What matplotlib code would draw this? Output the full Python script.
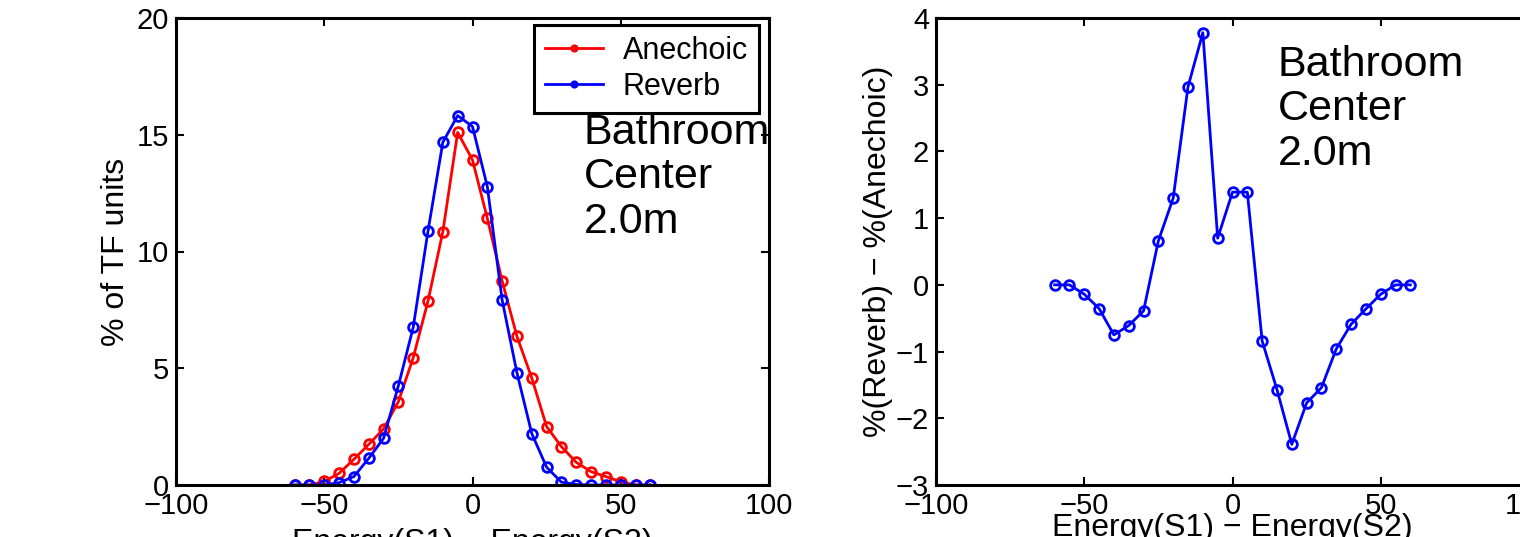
import numpy as np
import matplotlib
matplotlib.use("Agg")
import matplotlib.pyplot as plt

plt.rcParams['font.family'] = ['Liberation Sans', 'DejaVu Sans']

# energy difference bins
energia = [-60, -55, -50, -45, -40, -35, -30, -25, -20, -15, -10, -5, 0,
           5, 10, 15, 20, 25, 30, 35, 40, 45, 50, 55, 60]

anechoic = [0, 0, 0.15, 0.5, 1.1, 1.74, 2.4, 3.57, 5.45, 7.88, 10.85, 15.1,
            13.92, 11.42, 8.74, 6.36, 4.58, 2.5, 1.64, 0.97, 0.57, 0.36,
            0.14, 0, 0]
reverb = [0, 0, 0, 0.1, 0.36, 1.14, 2.0, 4.25, 6.75, 10.88, 14.68, 15.82,
          15.35, 12.78, 7.92, 4.8, 2.2, 0.76, 0.12, 0.02, 0, 0, 0, 0, 0]
roznica = [0, 0, -0.14, -0.355, -0.75, -0.61, -0.39, 0.66, 1.30, 2.97, 3.78,
           0.70, 1.39, 1.39, -0.84, -1.57, -2.39, -1.77, -1.54, -0.96, -0.59,
           -0.36, -0.14, 0, 0]

xticks = [-100, -50, 0, 50, 100]
yticks_l = [0, 5, 10, 15, 20]
yticks_r = [-3, -2, -1, 0, 1, 2, 3, 4]
opis = "Bathroom\nCenter\n2.0m"

fig = plt.figure(figsize=(15.2, 5.37), dpi=100)
ax1 = fig.add_axes([176 / 1520, 52 / 537, 593 / 1520, 467 / 537])
ax2 = fig.add_axes([936 / 1520, 52 / 537, 593 / 1520, 467 / 537])

styl = dict(marker='o', markersize=7, markerfacecolor='none',
            markeredgewidth=2, linewidth=2)


def wyglad(ax, yt):
    ax.set_xlim(-100, 100)
    ax.set_xticks(xticks)
    ax.set_yticks(yt)
    ax.set_ylim(yt[0], yt[-1])
    ax.tick_params(direction='in', length=6, width=1.5, labelsize=21,
                   top=True, right=True, pad=5)
    for s in ax.spines.values():
        s.set_linewidth(2.2)


ax1.plot(energia, anechoic, color='#ff0000', label='Anechoic', **styl)
ax1.plot(energia, reverb, color='#0000ff', label='Reverb', **styl)
wyglad(ax1, yticks_l)
ax1.set_ylabel('% of TF units', fontsize=23, labelpad=4)
ax1.set_xlabel('Energy(S1) \u2212 Energy(S2)', fontsize=23, labelpad=6)
leg = ax1.legend(loc='upper right', bbox_to_anchor=(0.983, 0.985),
                 borderaxespad=0, fontsize=22, fancybox=False,
                 markerscale=0.55, handlelength=1.9, handletextpad=0.65,
                 borderpad=0.35, labelspacing=0.2, framealpha=1)
leg.get_frame().set_edgecolor('black')
leg.get_frame().set_linewidth(2.2)
ax1.text(37.5, 15.95, opis, fontsize=31, va='top', ha='left',
         linespacing=1.15, clip_on=True)

ax2.plot(energia, roznica, color='#0000ff', **styl)
wyglad(ax2, yticks_r)
ax2.set_ylabel('%(Reverb) \u2212 %(Anechoic)', fontsize=23, labelpad=2)
ax2.set_xlabel('Energy(S1) \u2212 Energy(S2)', fontsize=23, labelpad=-5)
ax2.text(15.2, 3.6, opis, fontsize=31, va='top', ha='left',
         linespacing=1.15)

fig.savefig('out.png', dpi=100)
